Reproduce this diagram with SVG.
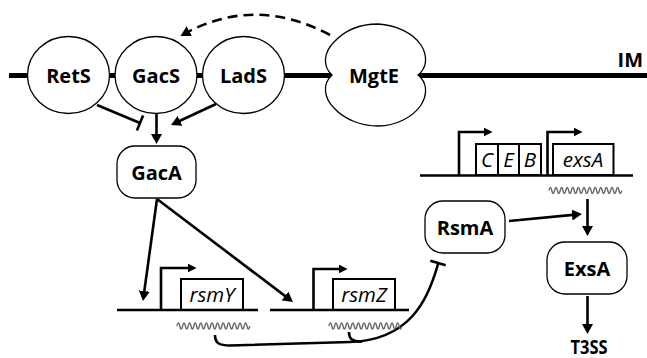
<svg xmlns="http://www.w3.org/2000/svg" width="647" height="358" viewBox="0 0 647 358">
<style>
.node{fill:#fff;stroke:#000;stroke-width:1.3}
.lb{font-family:"Open Sans","Liberation Sans",sans-serif;font-weight:700;font-size:20px;fill:#000;text-anchor:middle}
.it{font-family:"Open Sans","Liberation Sans",sans-serif;font-style:italic;font-size:20.5px;fill:#000;text-anchor:middle}
.ln{fill:none;stroke:#000;stroke-width:2.6}
.dna{fill:none;stroke:#000;stroke-width:2.6}
.gene{fill:#fff;stroke:#000;stroke-width:2}
.wave{fill:none;stroke:#666;stroke-width:1.4}
.arr{marker-end:url(#ah)}
.parr{marker-end:url(#ahs)}
</style>
<defs>
<marker id="ah" viewBox="0 0 10 11" refX="6" refY="5.5" markerWidth="10" markerHeight="11" markerUnits="userSpaceOnUse" orient="auto"><path d="M0,0 L10,5.5 L0,11 z" fill="#000"/></marker>
<marker id="ahs" viewBox="0 0 10 10" refX="6" refY="5" markerWidth="9" markerHeight="9" markerUnits="userSpaceOnUse" orient="auto"><path d="M0,0 L10,5 L0,10 z" fill="#000"/></marker>
</defs>
<rect width="647" height="358" fill="#fff"/>
<g id="membrane">
<line x1="9" y1="75.5" x2="647" y2="75.5" stroke="#000" stroke-width="5"/>
<text class="lb" x="643" y="67" style="text-anchor:end">IM</text>
</g>
<g id="connectors">
<path class="ln arr" d="M330,35 Q255,-5 184,34" stroke-dasharray="10,6"/>
<line class="ln" x1="97" y1="105" x2="140" y2="123"/>
<line class="ln" x1="143.1" y1="115.6" x2="136.9" y2="130.4"/>
<line class="ln arr" x1="156.5" y1="113" x2="156.5" y2="140"/>
<line class="ln arr" x1="216" y1="104" x2="174.6" y2="123.3"/>
<line class="ln arr" x1="157" y1="199" x2="143.5" y2="297"/>
<line class="ln arr" x1="157" y1="199" x2="289.8" y2="299.6"/>
<path class="ln" d="M215,335 C215,343 219,345.5 230,345.5 L350,342 C410,340 428,300 438,264"/>
<path class="ln" d="M349,332 C349,339 352,341.5 362,341.7"/>
<line class="ln" x1="430.3" y1="260.8" x2="445.7" y2="265.2"/>
<line class="ln arr" x1="509" y1="221" x2="578" y2="214.4"/>
<line class="ln arr" x1="587.5" y1="199" x2="587.5" y2="232"/>
<line class="ln arr" x1="587.5" y1="296" x2="587.5" y2="330"/>
</g>
<g id="RetS"><ellipse class="node" cx="68.5" cy="75" rx="41" ry="38.5"/><text class="lb" x="68.5" y="82.5">RetS</text></g>
<g id="GacS"><ellipse class="node" cx="156" cy="75" rx="41" ry="38.5"/><text class="lb" x="156" y="82.5">GacS</text></g>
<g id="LadS"><ellipse class="node" cx="243.5" cy="75" rx="41" ry="38.5"/><text class="lb" x="243.5" y="82.5">LadS</text></g>
<g id="MgtE"><path class="node" d="M332,75 C322,66 324,52 334,42 C346,29 362,24 378,24 C396,25 413,33 421,45 C428,56 427,68 418,75 C427,82 428,94 421,105 C413,117 396,126 378,126 C362,126 345,120 334,108 C324,98 322,84 332,75 Z"/><text class="lb" x="374" y="82.5">MgtE</text></g>
<g id="GacA"><rect class="node" x="117" y="146" width="79" height="52" rx="18"/><text class="lb" x="156.5" y="179.5">GacA</text></g>
<g id="RsmA"><rect class="node" x="425" y="201" width="80" height="52" rx="18"/><text class="lb" x="465" y="234.5">RsmA</text></g>
<g id="ExsA"><rect class="node" x="547" y="242" width="80" height="52" rx="18"/><text class="lb" x="587" y="275.5">ExsA</text></g>
<g id="T3SS"><text class="lb" x="589" y="353.5" textLength="37" lengthAdjust="spacingAndGlyphs">T3SS</text></g>
<g id="rsmY">
<rect class="gene" x="181" y="279" width="62" height="31"/>
<text class="it" x="212" y="302">rsmY</text>
<line class="dna" x1="117" y1="310" x2="258" y2="310"/>
<path class="dna parr" d="M161,310 V268 H193"/>
<path class="wave" d="M177,326 q1.4,-6 2.8,0 t2.8,0 t2.8,0 t2.8,0 t2.8,0 t2.8,0 t2.8,0 t2.8,0 t2.8,0 t2.8,0 t2.8,0 t2.8,0 t2.8,0 t2.8,0 t2.8,0 t2.8,0 t2.8,0 t2.8,0 t2.8,0 t2.8,0 t2.8,0 t2.8,0 t2.8,0 t2.8,0 t2.8,0 t2.8,0"/>
</g>
<g id="rsmZ">
<rect class="gene" x="333" y="279" width="62" height="31"/>
<text class="it" x="364" y="302">rsmZ</text>
<line class="dna" x1="270" y1="310" x2="409" y2="310"/>
<path class="dna parr" d="M313.5,310 V269 H344"/>
<path class="wave" d="M329,326 q1.4,-6 2.8,0 t2.8,0 t2.8,0 t2.8,0 t2.8,0 t2.8,0 t2.8,0 t2.8,0 t2.8,0 t2.8,0 t2.8,0 t2.8,0 t2.8,0 t2.8,0 t2.8,0 t2.8,0 t2.8,0 t2.8,0 t2.8,0 t2.8,0 t2.8,0 t2.8,0 t2.8,0 t2.8,0 t2.8,0 t2.8,0"/>
</g>
<g id="exsCEBA">
<rect class="gene" x="476" y="144" width="22" height="31"/>
<rect class="gene" x="498" y="144" width="21" height="31"/>
<rect class="gene" x="519" y="144" width="22" height="31"/>
<rect class="gene" x="553" y="144" width="60.5" height="31"/>
<text class="it" x="487" y="167">C</text>
<text class="it" x="508.5" y="167">E</text>
<text class="it" x="530" y="167">B</text>
<text class="it" x="583" y="167">exsA</text>
<line class="dna" x1="420" y1="175.5" x2="633" y2="175.5"/>
<path class="dna parr" d="M459,175 V132 H489"/>
<path class="dna parr" d="M547.5,175 V132 H579"/>
<path class="wave" d="M549,190.5 q1.4,-6 2.8,0 t2.8,0 t2.8,0 t2.8,0 t2.8,0 t2.8,0 t2.8,0 t2.8,0 t2.8,0 t2.8,0 t2.8,0 t2.8,0 t2.8,0 t2.8,0 t2.8,0 t2.8,0 t2.8,0 t2.8,0 t2.8,0 t2.8,0 t2.8,0 t2.8,0 t2.8,0 t2.8,0 t2.8,0 t2.8,0"/>
</g>
</svg>
